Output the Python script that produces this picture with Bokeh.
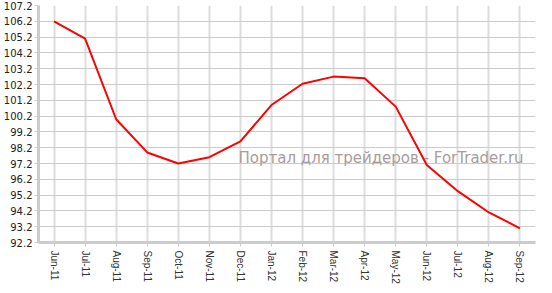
from bokeh.plotting import figure
from bokeh.models import FactorRange, Range1d, FixedTicker, PrintfTickFormatter, Label
from bokeh.embed import file_html
from bokeh.resources import INLINE

months = ["Jun-11", "Jul-11", "Aug-11", "Sep-11", "Oct-11", "Nov-11", "Dec-11", "Jan-12",
          "Feb-12", "Mar-12", "Apr-12", "May-12", "Jun-12", "Jul-12", "Aug-12", "Sep-12"]
values = [106.2, 105.1, 100.0, 97.9, 97.2, 97.6, 98.6, 100.9,
          102.25, 102.7, 102.6, 100.8, 97.1, 95.45, 94.1, 93.1]
y_ticks = [92.2, 93.2, 94.2, 95.2, 96.2, 97.2, 98.2, 99.2, 100.2, 101.2,
           102.2, 103.2, 104.2, 105.2, 106.2, 107.2]
watermark = "Портал для трейдеров - ForTrader.ru"

p = figure(width=552, height=293, x_range=FactorRange(*months),
           y_range=Range1d(92.2, 107.2), output_backend="svg", toolbar_location=None,
           min_border_left=35, min_border_right=17, min_border_top=5, min_border_bottom=51)
p.outline_line_color = None
p.background_fill_color = "white"

lab = Label(x=200, y=85, x_units="screen", y_units="screen", text=watermark,
            text_font="DejaVu Sans", text_font_size="15px", text_color="#a89c9c",
            text_baseline="alphabetic", level="underlay")
p.add_layout(lab)

p.line(months, values, line_color="#ff0000", line_width=2)

p.yaxis.ticker = FixedTicker(ticks=y_ticks)
p.yaxis.formatter = PrintfTickFormatter(format="%.1f")
for ax in (p.xaxis, p.yaxis):
    ax.axis_line_color = "#cccccc"
    ax.axis_line_width = 3
    ax.major_tick_line_color = "#cccccc"
    ax.major_tick_line_width = 1
    ax.major_tick_in = 0
    ax.major_tick_out = 4
    ax.minor_tick_line_color = None
p.yaxis.major_label_text_font = "DejaVu Sans"
p.yaxis.major_label_text_font_size = "10px"
p.yaxis.major_label_text_color = "#222222"
p.yaxis.major_label_standoff = 2
p.xaxis.major_label_orientation = "vertical"
p.xaxis.major_label_text_font = "Liberation Sans"
p.xaxis.major_label_text_font_size = "10px"
p.xaxis.major_label_text_color = "#333333"
p.xaxis.major_label_standoff = 4

p.xgrid.grid_line_color = "#dddddd"
p.xgrid.grid_line_width = 2
p.ygrid.grid_line_color = "#cccccc"
p.ygrid.grid_line_width = 1

open("out.html", "w").write(file_html(p, INLINE))
